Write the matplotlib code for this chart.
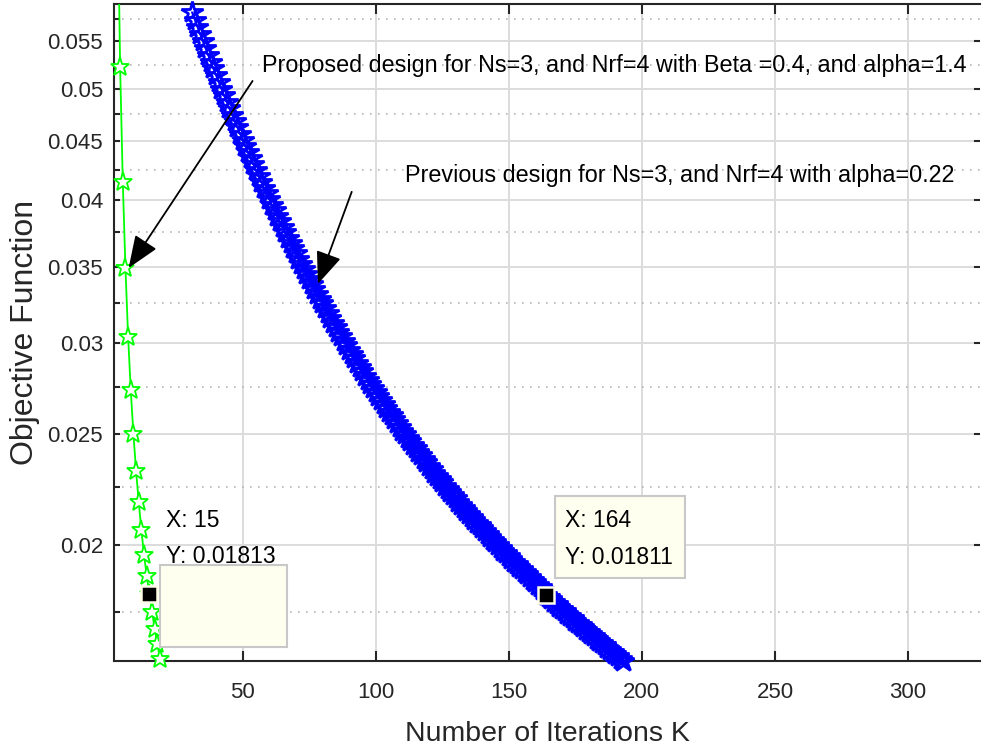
import matplotlib
matplotlib.use("Agg")
import matplotlib.pyplot as plt
from matplotlib.ticker import NullFormatter
import matplotlib.transforms as mtransforms
from matplotlib.patches import Rectangle

# Proposed design: objective value per iteration
prop_iter = list(range(1, 22))
prop_obj = [0.20, 0.11, 0.075, 0.0523, 0.0415, 0.0349, 0.0304, 0.0273, 0.0250,
            0.0232, 0.0218, 0.0206, 0.0196, 0.0188, 0.01813, 0.0175, 0.0169,
            0.0164, 0.0159, 0.0155, 0.0151]

# Previous design: objective value per iteration (iterations 31..194)
prev_iter = list(range(31, 195))
prev_obj = [
    0.05831, 0.05747, 0.05665, 0.05585, 0.05507, 0.05430, 0.05355, 0.05282, 0.05210, 0.05140,
    0.05071, 0.05004, 0.04938, 0.04874, 0.04811, 0.04749, 0.04689, 0.04630, 0.04572, 0.04515,
    0.04460, 0.04405, 0.04352, 0.04300, 0.04248, 0.04198, 0.04149, 0.04101, 0.04054, 0.04007,
    0.03962, 0.03918, 0.03875, 0.03833, 0.03791, 0.03750, 0.03710, 0.03671, 0.03632, 0.03594,
    0.03557, 0.03520, 0.03484, 0.03449, 0.03414, 0.03380, 0.03347, 0.03314, 0.03281, 0.03250,
    0.03219, 0.03188, 0.03158, 0.03128, 0.03099, 0.03071, 0.03043, 0.03015, 0.02988, 0.02962,
    0.02936, 0.02910, 0.02885, 0.02861, 0.02836, 0.02812, 0.02789, 0.02766, 0.02743, 0.02721,
    0.02699, 0.02678, 0.02657, 0.02636, 0.02616, 0.02596, 0.02576, 0.02556, 0.02537, 0.02518,
    0.02500, 0.02482, 0.02464, 0.02446, 0.02429, 0.02411, 0.02395, 0.02378, 0.02362, 0.02345,
    0.02330, 0.02314, 0.02299, 0.02283, 0.02269, 0.02254, 0.02239, 0.02225, 0.02211, 0.02197,
    0.02183, 0.02170, 0.02157, 0.02144, 0.02131, 0.02118, 0.02105, 0.02093, 0.02081, 0.02069,
    0.02057, 0.02045, 0.02033, 0.02022, 0.02011, 0.01999, 0.01988, 0.01978, 0.01967, 0.01956,
    0.01946, 0.01935, 0.01925, 0.01915, 0.01905, 0.01895, 0.01886, 0.01876, 0.01866, 0.01857,
    0.01848, 0.01838, 0.01829, 0.01811, 0.01803, 0.01794, 0.01785, 0.01777, 0.01768, 0.01760,
    0.01752, 0.01743, 0.01735, 0.01727, 0.01719, 0.01711, 0.01703, 0.01696, 0.01688, 0.01680,
    0.01673, 0.01665, 0.01658, 0.01650, 0.01643, 0.01636, 0.01628, 0.01621, 0.01614, 0.01607,
    0.01600, 0.01593, 0.01586, 0.01579,
]

yticks = [0.02, 0.025, 0.03, 0.035, 0.04, 0.045, 0.05, 0.055]
ytick_labels = ["0.02", "0.025", "0.03", "0.035", "0.04", "0.045", "0.05", "0.055"]
yminor = [0.0175, 0.0225, 0.0275, 0.0325, 0.0375, 0.0425, 0.0475, 0.0525, 0.0575]
xticks = [50, 100, 150, 200, 250, 300]
xtick_labels = ["50", "100", "150", "200", "250", "300"]

label_prop = "Proposed design for Ns=3, and Nrf=4 with Beta =0.4, and alpha=1.4"
label_prev = "Previous design for Ns=3, and Nrf=4 with alpha=0.22"

plt.rcParams["font.family"] = ["Liberation Sans", "DejaVu Sans"]
fig = plt.figure(figsize=(9.82, 7.51), dpi=100)
W, H = 982, 751
ax = fig.add_axes([114 / W, 1 - 660.7 / H, 866 / W, 656.7 / H])
ax.set_yscale("log")
xlo, xhi, ylo, yhi = 1.7, 327, 0.01586, 0.0593
ax.set_xlim(xlo, xhi)
ax.set_ylim(ylo, yhi)

dark = "#262626"
ax.set_yticks(yticks)
ax.set_yticklabels(ytick_labels)
ax.set_yticks(yminor, minor=True)
ax.yaxis.set_minor_formatter(NullFormatter())
ax.set_xticks(xticks)
ax.set_xticklabels(xtick_labels)

ax.grid(which="major", axis="both", color="#dcdcdc", lw=1.4, zorder=0)
ax.grid(which="minor", axis="y", color="#b5b5b5", lw=1.2, ls=(0, (1, 3.8)), zorder=0)
ax.set_axisbelow(True)

ax.tick_params(axis="x", which="major", direction="in", length=7.5, width=1.5,
               top=True, bottom=True, colors=dark, labelsize=16, pad=15)
ax.tick_params(axis="y", which="major", direction="in", length=4.5, width=1.5,
               left=True, right=True, colors=dark, labelsize=16, pad=8)
ax.tick_params(axis="y", which="minor", direction="in", length=4.5, width=1.5,
               left=True, right=False, colors=dark)
for side in ["left", "bottom", "top"]:
    ax.spines[side].set_color(dark)
    ax.spines[side].set_linewidth(1.5)
ax.spines["right"].set_visible(False)

ax.set_xlabel("Number of Iterations K", fontsize=20.5, color=dark, labelpad=13)
ax.set_ylabel("Objective Function", fontsize=23, color=dark, labelpad=5)

# curves: line clipped to the box, star markers drawn whole
ax.plot(prop_iter, prop_obj, color="#00ff00", lw=1.3, zorder=3)
ax.plot(prev_iter, prev_obj, color="#0000ff", lw=1.3, zorder=3)
pi_in = [(x, y) for x, y in zip(prop_iter, prop_obj) if ylo <= y <= yhi]
pv_in = [(x, y) for x, y in zip(prev_iter, prev_obj) if ylo <= y <= yhi]
ax.plot([p[0] for p in pi_in], [p[1] for p in pi_in], ls="none", marker="*",
        ms=14, mfc="white", mec="#00ff00", mew=1.3, clip_on=False, zorder=4)
ax.plot([p[0] for p in pv_in], [p[1] for p in pv_in], ls="none", marker="*",
        ms=16, mfc="none", mec="#0000ff", mew=2.0, clip_on=False, zorder=4)

# data tips
tip_fc = "#fffff0"
tip_ec = "#c8c8c8"
px2pt = 72 / 100.0


def tip_box(x, y, dx, dy, w, h):
    tr = mtransforms.ScaledTranslation(x, y, ax.transData)
    r = Rectangle((dx, dy), w, h, transform=tr, fc=tip_fc, ec=tip_ec, lw=1.5,
                  zorder=6, clip_on=False)
    ax.add_patch(r)


def tip_text(x, y, dx, label):
    ax.annotate(label, xy=(x, y), xytext=(dx * px2pt, 26 * px2pt), textcoords="offset points",
                fontsize=16.5, color="k", ha="left", va="bottom", linespacing=1.75, zorder=7)


i15 = prop_iter.index(15)
x15, y15 = prop_iter[i15], prop_obj[i15]
i164 = prev_iter.index(164)
x164, y164 = prev_iter[i164], prev_obj[i164]

tip_box(x15, y15, 11, -53, 127, 82)
tip_box(x164, y164, 9, 17, 130, 82)
tip_text(x15, y15, 17, "X: %d\nY: %.5f" % (x15, y15))
tip_text(x164, y164, 19, "X: %d\nY: %.5f" % (x164, y164))
for (x, y) in [(x15, y15), (x164, y164)]:
    ax.plot([x], [y], marker="s", ms=11.5, mfc="k", mec="#fffde6", mew=1.8,
            zorder=8, clip_on=False)

arrow = dict(arrowstyle="-|>,head_length=1.0,head_width=0.4", color="k", lw=1.3,
             mutation_scale=20, shrinkA=0, shrinkB=0)
ax.annotate("", xy=(7.2, 0.0349), xytext=(0.160, 0.8828), textcoords="axes fraction",
            arrowprops=arrow, zorder=9)
ax.text(0.171, 0.906, label_prop, transform=ax.transAxes, fontsize=16.8,
        ha="left", va="center", color="k")
ax.annotate("", xy=(78.3, 0.0338), xytext=(0.2745, 0.714), textcoords="axes fraction",
            arrowprops=arrow, zorder=9)
ax.text(0.336, 0.7381, label_prev, transform=ax.transAxes, fontsize=16.8,
        ha="left", va="center", color="k")

fig.savefig("out.png", dpi=100)
